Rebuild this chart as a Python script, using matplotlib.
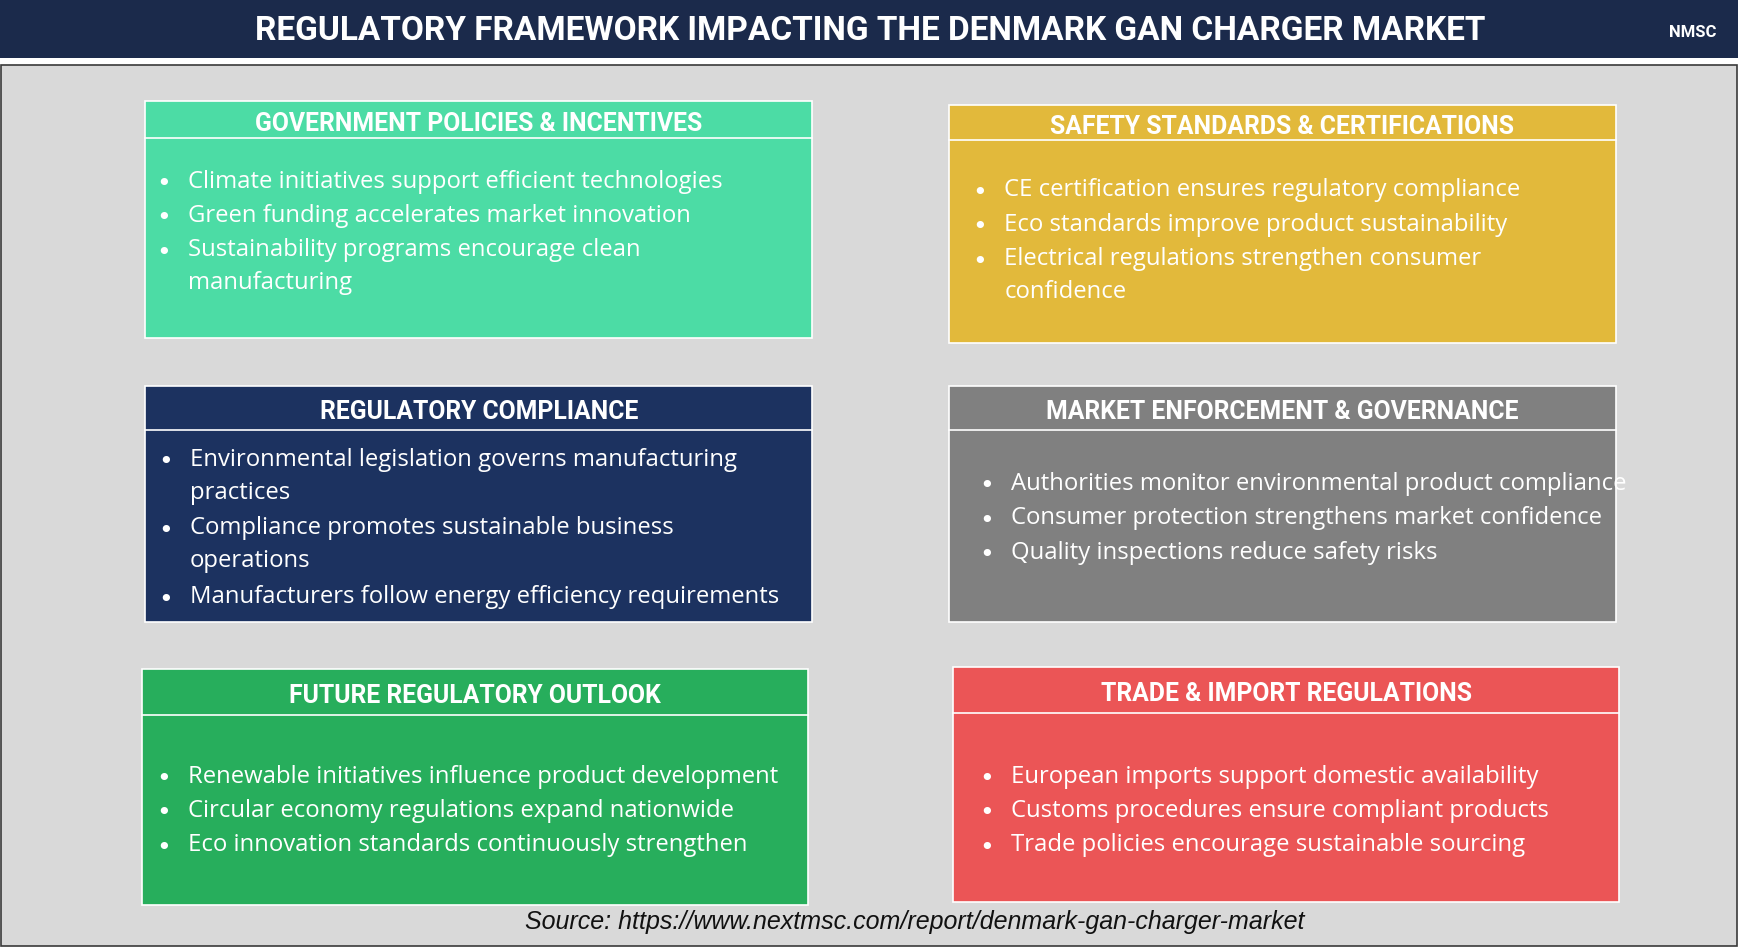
import matplotlib.pyplot as plt
from matplotlib.patches import Rectangle

plt.rcParams['font.family'] = ['Open Sans', 'DejaVu Sans']

W, H = 1568.0, 860.0  # reference layout units

title = 'REGULATORY FRAMEWORK IMPACTING THE DENMARK GAN CHARGER MARKET'
source = 'Source: https://www.nextmsc.com/report/denmark-gan-charger-market'

headings = ['GOVERNMENT POLICIES & INCENTIVES', 'SAFETY STANDARDS & CERTIFICATIONS',
            'REGULATORY COMPLIANCE', 'MARKET ENFORCEMENT & GOVERNANCE',
            'FUTURE REGULATORY OUTLOOK', 'TRADE & IMPORT REGULATIONS']
bullets = [
    ['Climate initiatives support efficient technologies',
     'Green funding accelerates market innovation',
     'Sustainability programs encourage clean\nmanufacturing'],
    ['CE certification ensures regulatory compliance',
     'Eco standards improve product sustainability',
     'Electrical regulations strengthen consumer\nconfidence'],
    ['Environmental legislation governs manufacturing\npractices',
     'Compliance promotes sustainable business\noperations',
     'Manufacturers follow energy efficiency requirements'],
    ['Authorities monitor environmental product compliance',
     'Consumer protection strengthens market confidence',
     'Quality inspections reduce safety risks'],
    ['Renewable initiatives influence product development',
     'Circular economy regulations expand nationwide',
     'Eco innovation standards continuously strengthen'],
    ['European imports support domestic availability',
     'Customs procedures ensure compliant products',
     'Trade policies encourage sustainable sourcing'],
]
colors = ['#4cdca5', '#e2b93b', '#1c3260', '#808080', '#27ae5c', '#eb5556']
# box x0, y0, x1, y1, header bottom, first bullet y, text indent
boxes = [(131, 92, 733, 306, 125, 161, 39), (856, 96, 1458, 310, 127, 169, 50),
         (131, 349, 733, 562, 389, 412, 40), (856, 349, 1458, 562, 389, 434, 56),
         (128, 605, 729, 818, 646, 698, 42), (860, 603, 1461, 815, 644, 698, 52)]


def fx(x):
    return x / W


def fy(y):
    return 1 - y / H


fig = plt.figure(figsize=(17.38, 9.53), dpi=100)
fig.patch.set_facecolor('white')

# background and header bar
fig.add_artist(Rectangle((fx(1), fy(855)), fx(1566), 795 / H, facecolor='#d9d9d9',
                         edgecolor='#3a3a3a', lw=1.2, transform=fig.transFigure))
fig.add_artist(Rectangle((0, fy(53)), 1, 53 / H, facecolor='#1b2a4b',
                         transform=fig.transFigure))
fig.text(fx(785), fy(28), title, color='white', fontsize=24, fontweight='bold',
         family='Roboto', ha='center', va='center')
fig.text(fx(1527), fy(29), 'NMSC', color='white', fontsize=12, fontweight='bold',
         family='Roboto', ha='center', va='center')

for (x0, y0, x1, y1, hb, by, ind), head, items, c in zip(boxes, headings, bullets, colors):
    fig.add_artist(Rectangle((fx(x0), fy(y1)), fx(x1 - x0), (y1 - y0) / H,
                             facecolor=c, edgecolor='white', lw=1.2,
                             transform=fig.transFigure))
    fig.add_artist(plt.Line2D([fx(x0), fx(x1)], [fy(hb), fy(hb)], color='white',
                              lw=1.2, transform=fig.transFigure))
    fig.text(fx((x0 + x1) / 2), fy((y0 + hb) / 2 + 3), head, color='white',
             fontsize=17.8, fontweight='bold', family='Roboto',
             ha='center', va='center')
    y = by + 6
    for item in items:
        fig.text(fx(x0 + ind - 22), fy(y - 1), '•', color='white', fontsize=18,
                 family='DejaVu Sans', ha='center', va='center')
        fig.text(fx(x0 + ind), fy(y - 14), item, color='white', fontsize=17.2,
                 ha='left', va='top', linespacing=1.5)
        y += 31 * (item.count('\n') + 1)

fig.text(fx(825), fy(832), source, fontsize=18, style='italic',
         family='Liberation Sans', ha='center', va='center', color='#111111')

fig.savefig('out.png', dpi=100)
